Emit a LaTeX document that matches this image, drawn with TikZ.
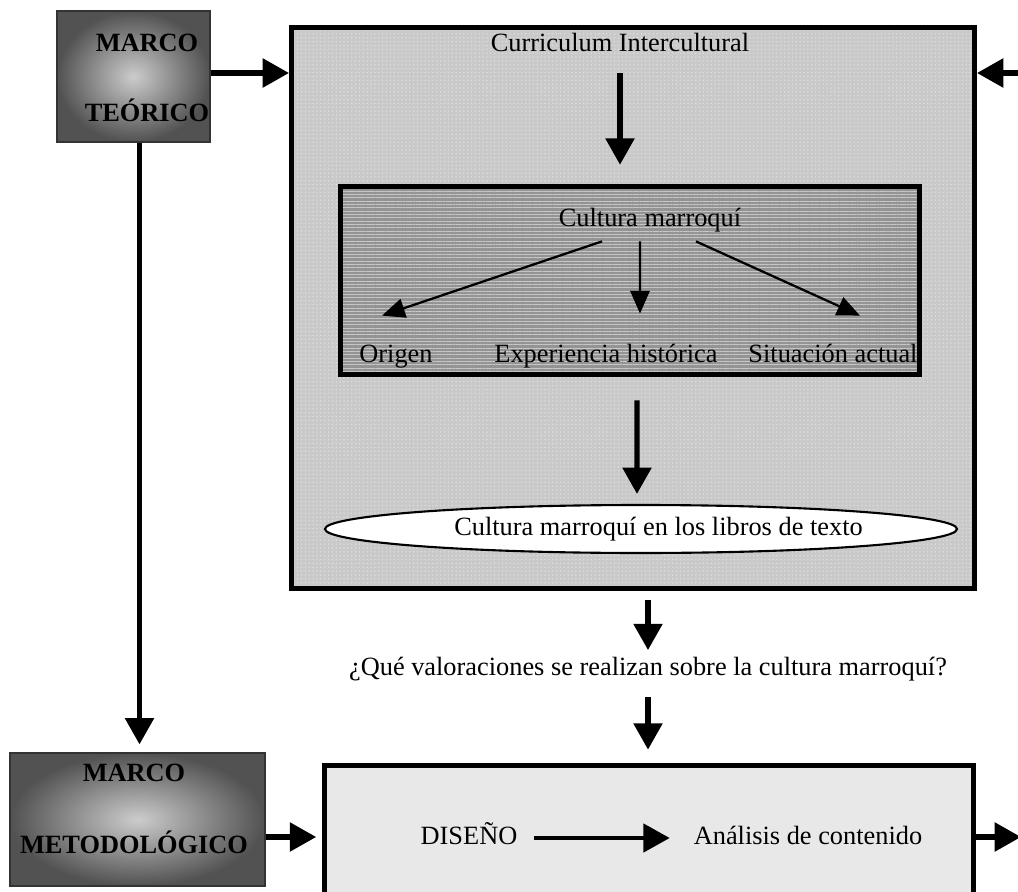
\documentclass[tikz,border=0pt]{standalone}
\usepackage{fontspec}
\setmainfont{Liberation Serif}
\usetikzlibrary{shapes.geometric, arrows.meta, positioning, patterns.meta, calc}

\begin{document}
\begin{tikzpicture}[
    x=0.02cm, y=-0.02cm,
    font=\fontsize{15}{18}\selectfont,
    % Estilos de cajas
    marcobox/.style={rectangle, draw=black!80, line width=0.7pt, shading=radial, inner color=black!20, outer color=black!68},
    marcotext/.style={font=\fontsize{15}{18}\selectfont\bfseries, align=center, inner sep=1pt},
    mainbox/.style={rectangle, draw=black, line width=2.9pt, preaction={fill=black!21}, pattern={Dots[distance=2.2pt, radius=0.45pt]}, pattern color=white!88!black},
    culturebox/.style={rectangle, draw=black, line width=2.7pt, preaction={fill=black!42}, pattern={Lines[distance=1.9pt, line width=0.35pt]}, pattern color=white!78!black},
    designbox/.style={rectangle, draw=black, line width=2.7pt, fill=black!9},
    textlabel/.style={inner sep=1pt, text height=2.2ex, text depth=0.6ex},
    bigarrow/.style={line width=3pt, -{Triangle[length=15pt, width=16pt]}},
    smallarrow/.style={line width=1.3pt, -{Triangle[length=13pt, width=11pt]}}
]
\useasboundingbox (0,0) rectangle (1018,892);

% -------------------------
% MARCO TEORICO (Izquierda)
% -------------------------
\node[marcobox, minimum width=3.06cm, minimum height=2.62cm] (teorico) at (133.5,76.5) {};
\node[marcotext] (teorico_txt) at (147,78) {MARCO\\[21.5pt]TEÓRICO};

% -------------------------
% CURRICULUM (Centro)
% -------------------------
\node[mainbox, minimum width=13.66cm, minimum height=11.22cm] (curriculo_bg) at (633,308) {};
\node[textlabel] (curriculo) at (620,45) {Curriculum Intercultural};

\node[culturebox, minimum width=11.58cm, minimum height=3.76cm] (cultura_bg) at (630,280.5) {};
\node[textlabel] (cultura) at (650,220) {Cultura marroquí};
\node[textlabel] (origen) at (396,356) {Origen};
\node[textlabel] (historia) at (606,356) {Experiencia histórica};
\node[textlabel] (actual) at (833,356) {Situación actual};

\node[ellipse, draw=black, line width=1.2pt, fill=white, minimum width=12.16cm, minimum height=0.96cm, inner sep=1pt] (libros) at (641,529) {\hspace{0.7cm}Cultura marroquí en los libros de texto};

% Conexiones internas
\draw[bigarrow] ([yshift=-0.29cm]curriculo.south) -- ([yshift=0.43cm]curriculo.south |- cultura_bg.north);
\draw[smallarrow] ([xshift=-0.96cm, yshift=-0.16cm]cultura.south) -- ([xshift=-0.28cm, yshift=0.54cm]origen.north);
\draw[smallarrow] ([xshift=-0.2cm, yshift=-0.16cm]cultura.south) -- ([xshift=0.68cm, yshift=0.58cm]historia.north);
\draw[smallarrow] ([xshift=0.92cm, yshift=-0.16cm]cultura.south) -- ([xshift=0.54cm, yshift=0.54cm]actual.north);
\draw[bigarrow] ([xshift=0.14cm, yshift=-0.51cm]cultura_bg.south) -- ([xshift=-0.08cm, yshift=0.2cm]libros.north);

% Entrada por la derecha
\coordinate (entrada) at (1018,73);
\draw[bigarrow] (entrada) -- (entrada -| curriculo_bg.east);

% -------------------------
% PREGUNTA
% -------------------------
\node[textlabel] (pregunta) at (648,669) {¿Qué valoraciones se realizan sobre la cultura marroquí?};
\draw[bigarrow] ([yshift=-0.19cm]curriculo_bg.south -| pregunta.north) -- ([yshift=0.11cm]pregunta.north);

% -------------------------
% MARCO METODOLOGICO (Abajo)
% -------------------------
\node[marcobox, minimum width=5.1cm, minimum height=2.66cm] (metodo) at (137.5,819.5) {};
\node[marcotext] (metodo_txt) at (134,808.5) {MARCO\\[23pt]METODOLÓGICO};

\node[designbox, minimum width=12.98cm, minimum height=2.7cm] (diseno_bg) at (649,833) {};
\node[textlabel] (diseno) at (469,838) {DISEÑO};
\node[textlabel] (analisis) at (808,838) {Análisis de contenido};
\draw[bigarrow, line width=2.4pt, shorten <=0.3cm, shorten >=0.44cm] (diseno.east) -- (analisis.west);

\draw[bigarrow] ([yshift=-0.29cm]pregunta.south) -- ([yshift=0.27cm]pregunta.south |- diseno_bg.north);

% Salida por la derecha
\coordinate (salida) at (1021,837);
\draw[bigarrow] (diseno_bg.east |- salida) -- (salida);

% -------------------------
% CONEXIONES ENTRE MARCOS
% -------------------------
\draw[bigarrow] ([yshift=0.07cm]teorico.east) -- ([yshift=0.07cm]teorico.east -| curriculo_bg.west);
\draw[bigarrow, shorten >=0.16cm] ([xshift=0.12cm]teorico.south) -- ([xshift=0.12cm]teorico.south |- metodo.north);
\draw[bigarrow, shorten >=0.12cm] ([yshift=-0.35cm]metodo.east) -- ([yshift=-0.35cm]metodo.east -| diseno_bg.west);

\end{tikzpicture}
\end{document}
